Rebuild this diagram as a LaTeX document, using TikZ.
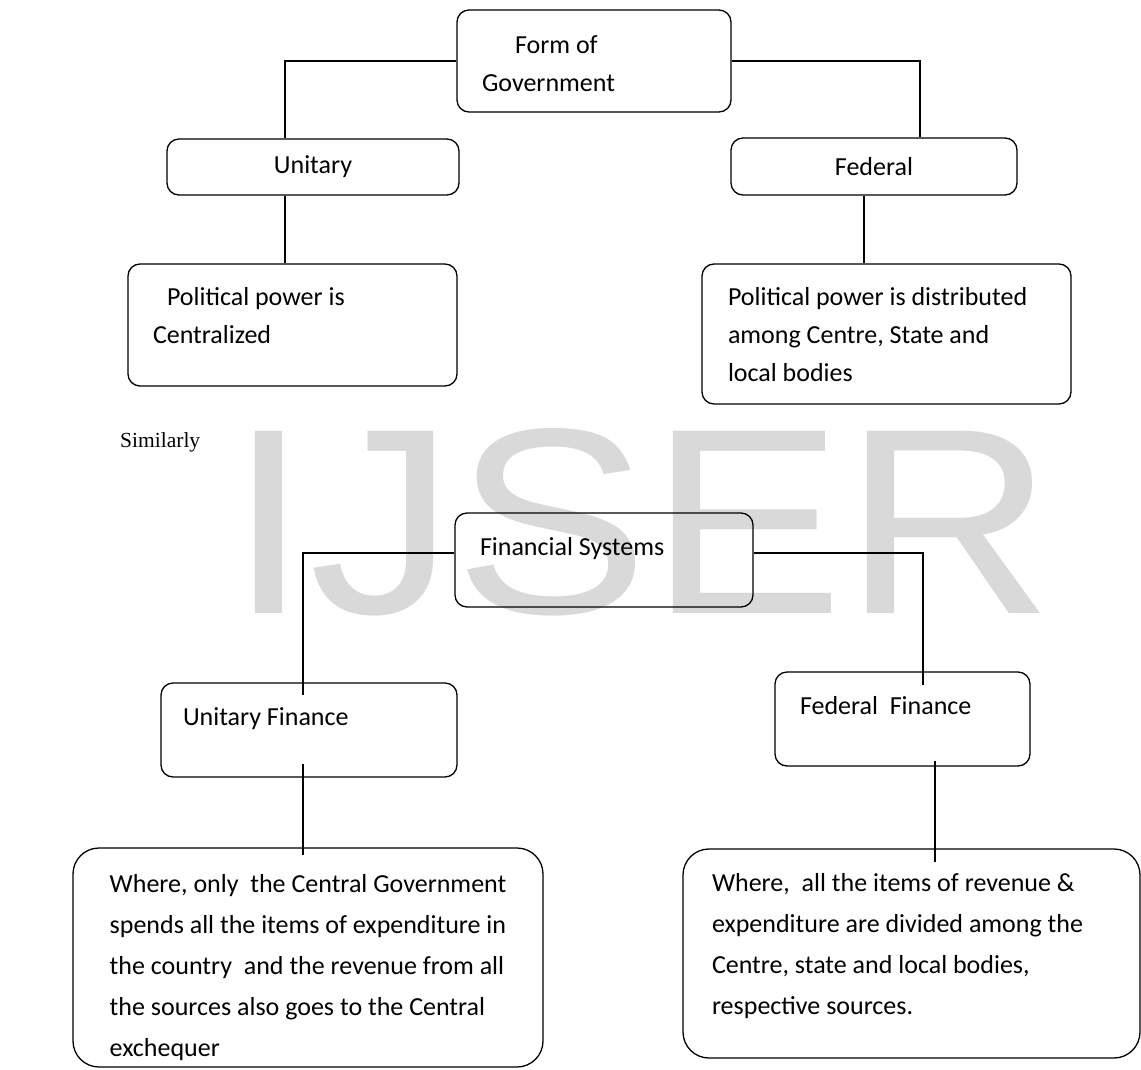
\documentclass[tikz,border=0pt]{standalone}
\usepackage{fontspec}
\setmainfont{Carlito}
\newfontfamily\serifface{Liberation Serif}
\newfontfamily\markface{Liberation Sans}
\definecolor{wmgray}{RGB}{217,217,217}
\definecolor{inkblack}{RGB}{0,0,0}
\tikzset{
  box/.style={draw=inkblack,line width=1.3pt,rounded corners=12pt,align=flush left,inner ysep=0pt,font=\fontsize{26}{38}\selectfont},
  bigbox/.style={box,rounded corners=26pt,font=\fontsize{26}{41}\selectfont},
  uptext/.style={text height=18pt,text depth=28pt},
  toptext/.style 2 args={text height=#1,text depth=#2},
  link/.style={draw=inkblack,line width=1.3pt},
  wmark/.style={anchor=base west,inner sep=0pt,text=wmgray,font=\markface\fontsize{265}{265}\selectfont},
}

\begin{document}
\begin{tikzpicture}[x=1pt,y=-1pt]
  \useasboundingbox (0,0) rectangle (1141,1070);
  \node[wmark] (mark) at (228,613) {\scalebox{1.1}[1]{IJSER}};
  \node[anchor=base west,inner sep=0pt,font=\serifface\fontsize{21.5}{24}\selectfont] (simil) at (120,447) {Similarly};
  % first chart
  \node[box,toptext={43.5pt}{58.5pt},inner xsep=25pt,text width=224pt,minimum height=102pt] (form) at (594,61) {\hspace*{33pt}Form of\\Government};
  \node[box,align=center,inner xsep=0pt,text width=292pt,minimum height=56pt] (unit) at (313,167) {Unitary};
  \node[box,align=center,inner xsep=0pt,text width=286pt,minimum height=57pt] (fed) at (874,166.5) {Federal};
  \node[box,toptext={41.5pt}{80.5pt},inner xsep=25pt,text width=279pt,minimum height=122pt] (polc) at (292.5,325) {\hspace*{14pt}Political power is\\Centralized};
  \node[box,toptext={41.5pt}{98.5pt},inner xsep=26pt,text width=317pt,minimum height=140pt] (polf) at (886.5,334) {Political power is distributed\\among Centre, State and\\local bodies};
  \draw[link] (form.west) -| ([xshift=-28pt]unit.north);
  \draw[link] (form.east) -| ([xshift=46pt]fed.north);
  \draw[link] ([xshift=-28pt]unit.south) -- ([xshift=-28pt]unit.south |- polc.north);
  \draw[link] ([xshift=-10pt]fed.south) -- ([xshift=-10pt]fed.south |- polf.north);
  % second chart
  \node[box,uptext,inner xsep=25pt,text width=248pt,minimum height=94pt] (fin) at (604,560) {Financial Systems};
  \node[box,uptext,inner xsep=22pt,text width=252pt,minimum height=94pt] (ufin) at (309,730) {Unitary Finance};
  \node[box,uptext,inner xsep=25pt,text width=205pt,minimum height=94pt] (ffin) at (902.5,719) {Federal\ \ Finance};
  \node[bigbox,toptext={208.5pt}{10.5pt},minimum width=470pt,minimum height=219pt] (ucase) at (308,957.5) {Where, only\ \ the Central Government\\spends all the items of expenditure in\\the country\ \ and the revenue from all\\the sources also goes to the Central\\exchequer};
  \node[bigbox,toptext={42.5pt}{166.5pt},inner xsep=29pt,text width=399pt,minimum height=209pt] (fcase) at (911.5,953.5) {Where,\ \ all the items of revenue \&\\expenditure are divided among the\\Centre, state and local bodies,\\respective sources.};
  \draw[link] ([yshift=7pt]fin.west) -| ([xshift=-6pt,yshift=-13pt]ufin.north);
  \draw[link] ([yshift=7pt]fin.east) -| ([xshift=20.5pt,yshift=-14pt]ffin.north);
  \draw[link] ([xshift=-6pt,yshift=14pt]ufin.south) -- ([xshift=-6pt,yshift=-8pt]ufin.south |- ucase.north);
  \draw[link] ([xshift=32.5pt,yshift=6pt]ffin.south) -- ([xshift=32.5pt,yshift=-14pt]ffin.south |- fcase.north);
\end{tikzpicture}
\end{document}
